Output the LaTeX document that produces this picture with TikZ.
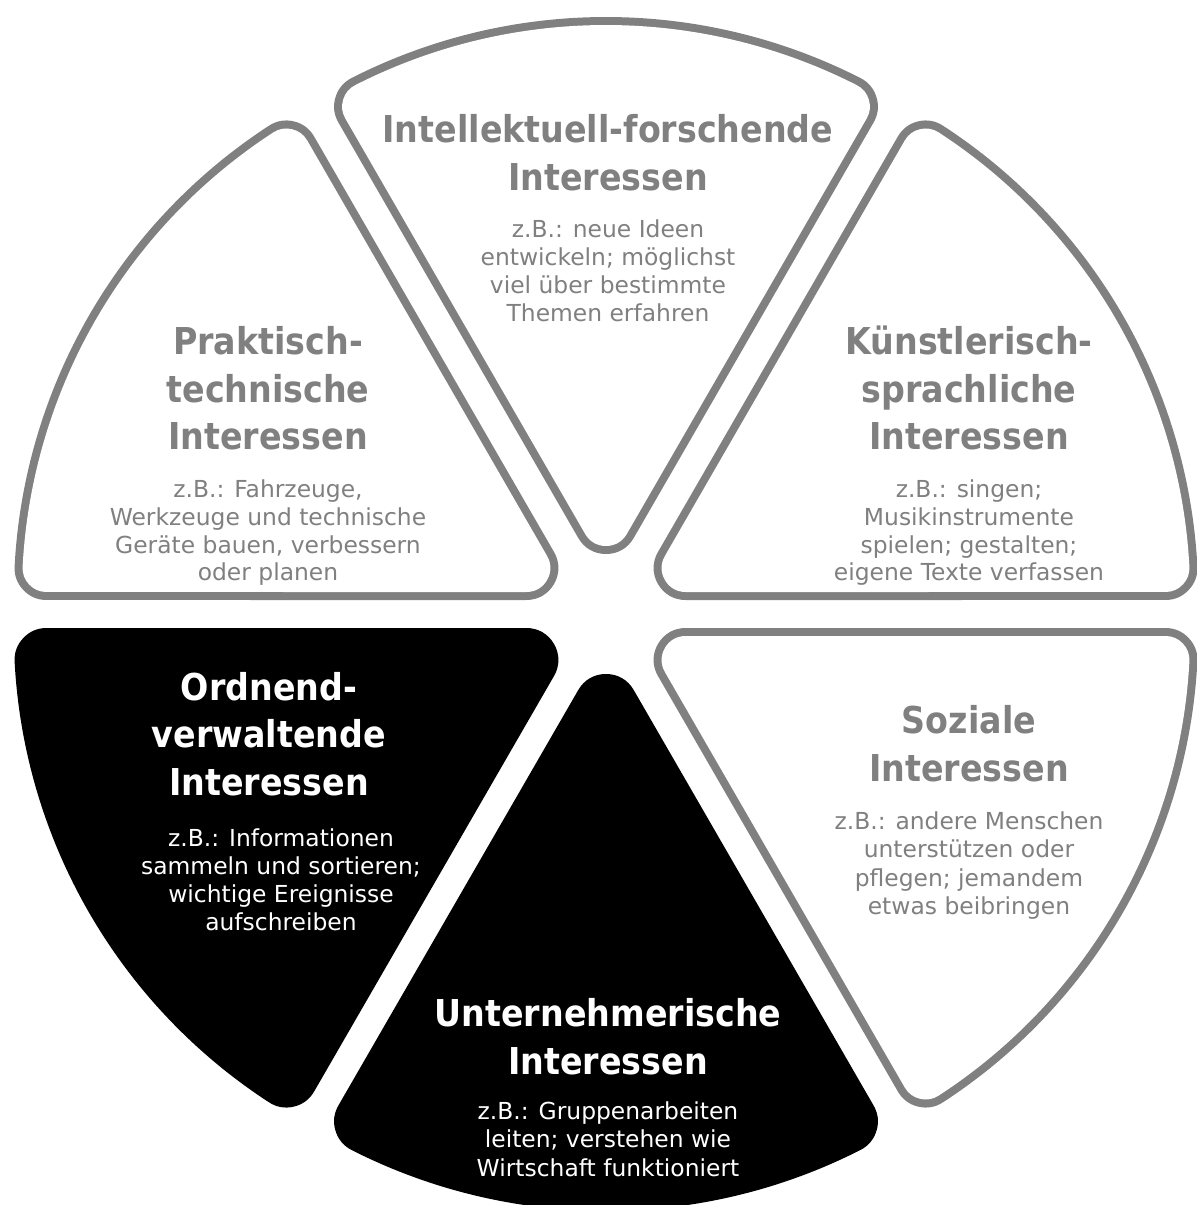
\documentclass[tikz,border=0pt]{standalone}
\usepackage{fontspec}
\setmainfont{DejaVu Sans}
\newfontfamily\titlefont{DejaVu Sans}[FakeStretch=0.9]
\definecolor{secgray}{RGB}{128,128,128}
\tikzset{
  graysec/.style={draw=secgray, line width=32pt, line join=round},
  whitesec/.style={fill=white, draw=white, line width=24pt, line join=round},
  blacksec/.style={fill=black, draw=black, line width=32pt, line join=round},
  ttlgray/.style={inner sep=0pt, text=secgray, font=\titlefont\bfseries\fontsize{18.5pt}{23.75pt}\selectfont},
  ttlwhite/.style={inner sep=0pt, text=white, font=\titlefont\bfseries\fontsize{18.5pt}{23.75pt}\selectfont},
  bodygray/.style={inner sep=0pt, text=secgray, font=\fontsize{11.7pt}{14pt}\selectfont},
  bodywhite/.style={inner sep=0pt, text=white, font=\fontsize{11.7pt}{14pt}\selectfont}
}
\newcommand\txtblock[6]{%
  \foreach \lntxt [count=\i] in {#6} {
    \node[#2, anchor=base] (#1\i) at (#3, {#4-(\i-1)*#5}) {\lntxt};
  }%
}
\newcommand\sectorshape[2]{%
  \begin{scope}[shift={(#1:\dd)}]
    \path[#2] (#1:2*\rr) -- (#1+\phia:\Ri) arc[start angle=#1+\phia, end angle=#1-\phia, radius=\Ri] -- cycle;
  \end{scope}%
}
\begin{document}
\begin{tikzpicture}[x=0.5pt,y=0.5pt]
\useasboundingbox (-606,-591) rectangle (591,614);
\def\Rr{557}
\def\rr{28}
\def\dd{36}
\pgfmathsetmacro\Ri{\Rr-\rr}
\pgfmathsetmacro\qq{\rr/\Ri}
\pgfmathsetmacro\tlen{-sqrt(3)*\rr + \Ri*sqrt(1 - \qq*\qq)}
\pgfmathsetmacro\phia{atan((\tlen/2)/(2*\rr + \tlen*sqrt(3)/2))}
% gray sectors
\foreach \a in {90,30,150,-30} {
  \sectorshape{\a}{graysec}
  \sectorshape{\a}{whitesec}
}
% black sectors
\foreach \a in {-90,210} {
  \sectorshape{\a}{blacksec}
}
% Intellektuell-forschende (top)
\txtblock{intT}{ttlgray}{2}{471}{47.5}{{Intellektuell-forschende},{Interessen}}
\txtblock{intB}{bodygray}{2}{376.3}{28}{{z.B.: neue Ideen},{entwickeln; möglichst},{viel über bestimmte},{Themen erfahren}}
% Praktisch-technische (upper left)
\txtblock{prT}{ttlgray}{-338}{259}{47.5}{{Praktisch-},{technische},{Interessen}}
\txtblock{prB}{bodygray}{-338}{117}{28}{{z.B.: Fahrzeuge,},{Werkzeuge und technische},{Geräte bauen, verbessern},{oder planen}}
% Künstlerisch-sprachliche (upper right)
\txtblock{kuT}{ttlgray}{363}{259}{47.5}{{Künstlerisch-},{sprachliche},{Interessen}}
\txtblock{kuB}{bodygray}{363}{117}{28}{{z.B.: singen;},{Musikinstrumente},{spielen; gestalten;},{eigene Texte verfassen}}
% Ordnend-verwaltende (lower left)
\txtblock{orT}{ttlwhite}{-337}{-86}{47.5}{{Ordnend-},{verwaltende},{Interessen}}
\txtblock{orB}{bodywhite}{-325}{-232}{28}{{z.B.: Informationen},{sammeln und sortieren;},{wichtige Ereignisse},{aufschreiben}}
% Soziale (lower right)
\txtblock{soT}{ttlgray}{363}{-119}{48}{{Soziale},{Interessen}}
\txtblock{soB}{bodygray}{363}{-215}{28.5}{{z.B.: andere Menschen},{unterstützen oder},{pflegen; jemandem},{etwas beibringen}}
% Unternehmerische (bottom)
\txtblock{unT}{ttlwhite}{2}{-412}{48}{{Unternehmerische},{Interessen}}
\txtblock{unB}{bodywhite}{2}{-505}{28.5}{{z.B.: Gruppenarbeiten},{leiten; verstehen wie},{Wirtschaft funktioniert}}
\end{tikzpicture}
\end{document}
